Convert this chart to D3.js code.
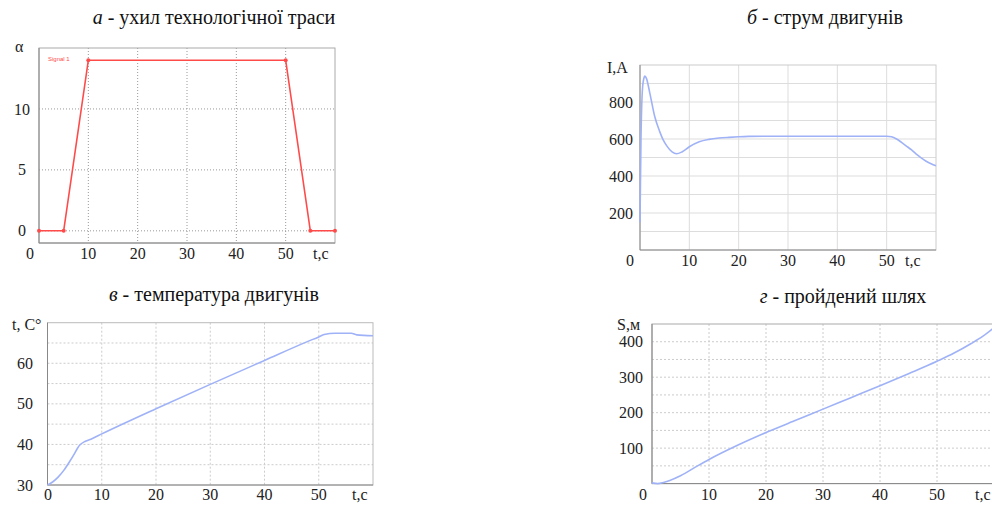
<!DOCTYPE html>
<html>
<head>
<meta charset="utf-8">
<script src="https://cdn.jsdelivr.net/npm/d3@7"></script>
<style>
  body { margin: 0; background: #fff; }
</style>
</head>
<body>
<svg id="chart" width="992" height="505"></svg>
<script>
// а - ухил технологічної траси
const angleTime = [0, 5, 10, 50, 55, 60];
const angleValue = [0, 0, 14, 14, 0, 0];

// б - струм двигунів
const currentTime = [0, 0.2, 0.5, 0.8, 1.0, 1.3, 2, 3, 4, 4.7, 5.5, 6.5, 7.4, 8.5, 10, 12, 14, 16, 18, 20, 22, 25, 30, 40, 50, 51, 52, 53, 54, 55, 56, 57, 58, 59, 60];
const currentValue = [150, 600, 870, 930, 940, 928, 847, 720, 640, 595, 560, 530, 520, 530, 558, 585, 598, 605, 609, 612, 614, 615, 615, 615, 615, 612, 600, 582, 562, 542, 518, 498, 480, 466, 455];

// в - температура двигунів
const tempTime = [0, 1, 2, 3, 4, 5, 5.5, 6, 7, 8, 10, 20, 30, 40, 48, 50, 51, 53, 56, 57, 60];
const tempValue = [30, 30.8, 32, 33.6, 35.6, 37.8, 39, 39.9, 40.8, 41.3, 42.6, 48.8, 54.8, 60.7, 65.4, 66.5, 67.1, 67.4, 67.4, 67.0, 66.8];

// г - пройдений шлях
const pathTime = [0, 1, 2, 3, 5, 8, 10, 15, 20, 25, 30, 35, 40, 45, 50, 53, 56, 58, 60];
const pathValue = [2, 0, 3, 8, 22, 50, 68, 108, 144, 177, 210, 243, 276, 310, 345, 368, 395, 415, 440];

const xTicks = [10, 20, 30, 40, 50];
const serif = 'Liberation Serif';

const svg = d3.select('#chart');

function label(g, txt, x, y, anchor) {
    return g.append('text')
        .attr('x', x).attr('y', y).attr('dy', '0.35em')
        .attr('text-anchor', anchor)
        .attr('font-family', serif)
        .attr('font-size', 16)
        .attr('fill', '#222')
        .text(txt);
}

function drawPanel(cfg) {
    const g = svg.append('g');
    const x = d3.scaleLinear().domain([0, 60]).range([cfg.left, cfg.right]);
    const y = d3.scaleLinear().domain(cfg.yDomain).range([cfg.bottom, cfg.top]);

    // grid
    g.selectAll('.hg').data(cfg.hGrid).enter().append('line')
        .attr('x1', cfg.left).attr('x2', cfg.right)
        .attr('y1', d => y(d)).attr('y2', d => y(d))
        .attr('stroke', cfg.gridColor).attr('stroke-width', 1)
        .attr('stroke-dasharray', cfg.gridDash);
    g.selectAll('.vg').data(xTicks).enter().append('line')
        .attr('x1', d => x(d)).attr('x2', d => x(d))
        .attr('y1', cfg.top).attr('y2', cfg.bottom)
        .attr('stroke', cfg.gridColor).attr('stroke-width', 1)
        .attr('stroke-dasharray', cfg.gridDash);

    // frame
    g.append('rect')
        .attr('x', cfg.left).attr('y', cfg.top)
        .attr('width', cfg.right - cfg.left).attr('height', cfg.bottom - cfg.top)
        .attr('fill', 'none').attr('stroke', cfg.frameColor).attr('stroke-width', 1);
    g.append('line')
        .attr('x1', cfg.left).attr('x2', cfg.left).attr('y1', cfg.top).attr('y2', cfg.bottom)
        .attr('stroke', '#888');
    g.append('line')
        .attr('x1', cfg.left).attr('x2', cfg.right).attr('y1', cfg.bottom).attr('y2', cfg.bottom)
        .attr('stroke', '#888');

    // data line
    const pts = cfg.xs.map((t, i) => [t, cfg.ys[i]]);
    const line = d3.line()
        .x(d => x(d[0]))
        .y(d => y(d[1]))
        .curve(cfg.curve);
    g.append('path')
        .datum(pts)
        .attr('fill', 'none')
        .attr('stroke', cfg.color)
        .attr('stroke-width', cfg.lineWidth)
        .attr('d', line);

    if (cfg.dots) {
        g.selectAll('.dot').data(pts).enter().append('circle')
            .attr('cx', d => x(d[0])).attr('cy', d => y(d[1]))
            .attr('r', 2).attr('fill', cfg.color);
    }

    // tick labels
    cfg.yLabels.forEach(d => label(g, d, cfg.yLabelX, y(d), cfg.yAnchor));
    xTicks.forEach(d => label(g, d, x(d), cfg.xLabelY, 'middle'));
    label(g, '0', cfg.zeroX, cfg.xLabelY, 'middle');
    label(g, 't,c', cfg.tcX, cfg.xLabelY, 'start');
    label(g, cfg.unit, cfg.unitX, cfg.unitY, 'start');

    // title
    const title = g.append('text')
        .attr('x', cfg.titleX).attr('y', cfg.titleY)
        .attr('text-anchor', 'middle')
        .attr('font-family', serif)
        .attr('font-size', 20)
        .attr('fill', '#111');
    title.append('tspan').attr('font-style', 'italic').text(cfg.letter);
    title.append('tspan').text(cfg.title);
    return g;
}

const pa = drawPanel({
    left: 39, right: 335, top: 48, bottom: 243, yDomain: [-1, 15],
    hGrid: [0, 5, 10], gridColor: '#999', gridDash: '1,2', frameColor: '#aaa',
    xs: angleTime, ys: angleValue, color: '#ff4a4a', lineWidth: 1.6, curve: d3.curveLinear, dots: true,
    yLabels: [0, 5, 10], yLabelX: 22, yAnchor: 'middle', xLabelY: 253, zeroX: 30, tcX: 313,
    unit: 'α', unitX: 15, unitY: 46,
    letter: 'а', title: '  - ухил технологічної траси', titleX: 214, titleY: 24
});
pa.append('text')
    .attr('x', 48).attr('y', 61)
    .attr('font-size', 6).attr('font-family', 'Liberation Sans')
    .attr('fill', '#ff4a4a')
    .text('Signal 1');

drawPanel({
    left: 640, right: 936, top: 65, bottom: 250, yDomain: [0, 1000],
    hGrid: [100, 200, 300, 400, 500, 600, 700, 800, 900], gridColor: '#ddd', gridDash: null, frameColor: '#ccc',
    xs: currentTime, ys: currentValue, color: '#9fb2f7', lineWidth: 1.6, curve: d3.curveMonotoneX, dots: false,
    yLabels: [200, 400, 600, 800], yLabelX: 633, yAnchor: 'end', xLabelY: 260, zeroX: 630, tcX: 905,
    unit: 'I,A', unitX: 607, unitY: 67,
    letter: 'б', title: ' - струм двигунів', titleX: 825, titleY: 24
});

drawPanel({
    left: 47.5, right: 373, top: 322.7, bottom: 485, yDomain: [30, 70],
    hGrid: [35, 40, 45, 50, 55, 60, 65], gridColor: '#ccc', gridDash: '2,2', frameColor: '#bbb',
    xs: tempTime, ys: tempValue, color: '#9fb2f7', lineWidth: 1.6, curve: d3.curveMonotoneX, dots: false,
    yLabels: [30, 40, 50, 60], yLabelX: 33, yAnchor: 'end', xLabelY: 494, zeroX: 48, tcX: 352,
    unit: 't, C°', unitX: 12, unitY: 324,
    letter: 'в', title: ' - температура двигунів', titleX: 214, titleY: 301
});

drawPanel({
    left: 652, right: 994, top: 324, bottom: 483.6, yDomain: [0, 450],
    hGrid: [50, 100, 150, 200, 250, 300, 350, 400], gridColor: '#ccc', gridDash: '2,2', frameColor: '#aaa',
    xs: pathTime, ys: pathValue, color: '#9fb2f7', lineWidth: 1.6, curve: d3.curveMonotoneX, dots: false,
    yLabels: [100, 200, 300, 400], yLabelX: 643, yAnchor: 'end', xLabelY: 494, zeroX: 643, tcX: 975,
    unit: 'S,м', unitX: 617, unitY: 324,
    letter: 'г', title: ' - пройдений шлях', titleX: 843, titleY: 303
});
</script>
</body>
</html>
